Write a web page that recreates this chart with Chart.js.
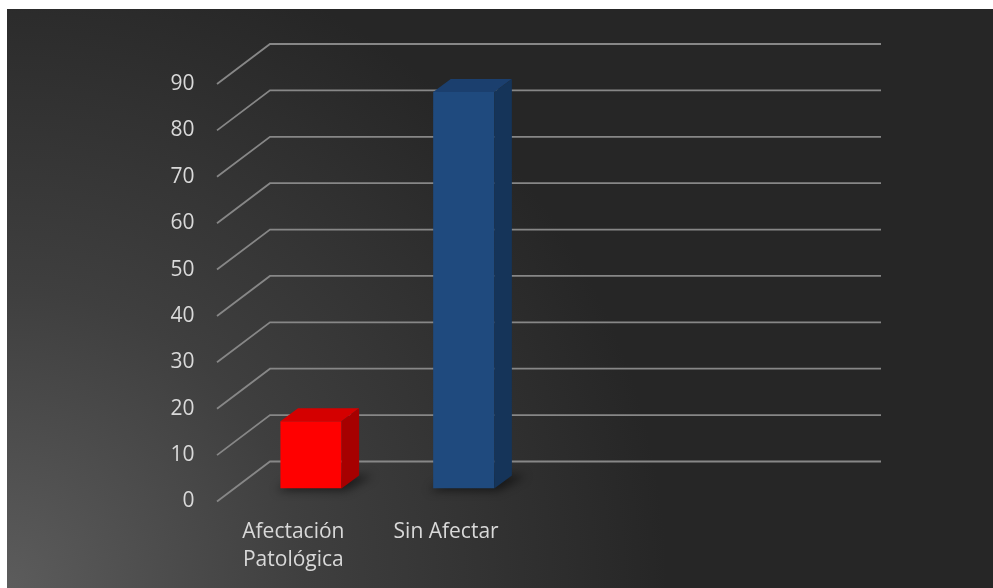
<!DOCTYPE html>
<html>
<head>
<meta charset="utf-8">
<script src="https://cdn.jsdelivr.net/npm/chart.js@4.4.1/dist/chart.umd.min.js"></script>
<style>
  html, body { margin: 0; background: #fff; }
  #wrap { position: relative; width: 993px; height: 588px; }
</style>
</head>
<body>
<div id="wrap"><canvas id="chart"></canvas></div>
<script>
// ── Data ──
const categories = [["Afectación", "Patológica"], "Sin Afectar", "", ""];
const values = [14.5, 85.5, null, null];
const frontColors = ["#ff0000", "#1f4a7e", null, null];
const topColors = ["#d40000", "#1b3f6e", null, null];
const sideColors = ["#a60000", "#153459", null, null];
const Y_MIN = 0, Y_MAX = 90, Y_STEP = 10;

// ── 3D look: offsets relative to the plane the bar fronts sit in ──
const DEPTH = { dx: 17.6, dy: 13 };   // thickness of each bar
const FRONT = { dx: -17.6, dy: 13 };  // front edge of floor (labels)
const BACK = { dx: 35.4, dy: 27 };    // back wall
const TXT = "#d9d9d9", GRIDC = "#878787";
const FONT = { family: "'Open Sans', sans-serif", size: 21, lineHeight: 28 / 21 };

const background = {
  id: "background",
  beforeDraw(chart) {
    const { ctx, width, height } = chart;
    ctx.save();
    ctx.fillStyle = "#fff";
    ctx.fillRect(0, 0, width, height);
    const g = ctx.createRadialGradient(7, height, 0, 7, height, 660);
    g.addColorStop(0, "#5c5c5c");
    g.addColorStop(0.45, "#3f3f3f");
    g.addColorStop(1, "#262626");
    ctx.fillStyle = g;
    ctx.fillRect(7, 9, width - 7, height - 9);
    ctx.restore();
  }
};

// side wall diagonals + back wall lines, one per y tick
const walls = {
  id: "walls",
  beforeDatasetsDraw(chart) {
    const { ctx, chartArea: a, scales: { y } } = chart;
    ctx.save();
    ctx.strokeStyle = GRIDC;
    ctx.lineWidth = 1.8;
    y.ticks.forEach((t) => {
      const py = y.getPixelForValue(t.value);
      ctx.beginPath();
      ctx.moveTo(a.left + FRONT.dx, py + FRONT.dy);
      ctx.lineTo(a.left + BACK.dx, py - BACK.dy);
      ctx.lineTo(a.right + BACK.dx, py - BACK.dy);
      ctx.stroke();
    });
    // soft floor shadows behind the bars
    const meta = chart.getDatasetMeta(0);
    ctx.filter = "blur(5px)";
    ctx.fillStyle = "rgba(0,0,0,0.55)";
    meta.data.forEach((bar, i) => {
      if (values[i] == null) return;
      const { x, base, width } = bar.getProps(["x", "base", "width"], true);
      const l = x - width / 2, r = x + width / 2;
      ctx.beginPath();
      ctx.moveTo(l - 4, base + 2);
      ctx.lineTo(r + 4, base + 2);
      ctx.lineTo(r + DEPTH.dx + 14, base - DEPTH.dy);
      ctx.lineTo(l + DEPTH.dx, base - DEPTH.dy);
      ctx.closePath();
      ctx.fill();
    });
    ctx.restore();
  }
};

// top and side faces of each bar
const boxes = {
  id: "boxes",
  afterDatasetsDraw(chart) {
    const { ctx } = chart;
    const meta = chart.getDatasetMeta(0);
    ctx.save();
    meta.data.forEach((bar, i) => {
      if (values[i] == null) return;
      const { x, y, base, width } = bar.getProps(["x", "y", "base", "width"], true);
      const l = x - width / 2, r = x + width / 2;
      ctx.fillStyle = topColors[i];
      ctx.beginPath();
      ctx.moveTo(l, y);
      ctx.lineTo(l + DEPTH.dx, y - DEPTH.dy);
      ctx.lineTo(r + DEPTH.dx, y - DEPTH.dy);
      ctx.lineTo(r, y);
      ctx.closePath();
      ctx.fill();
      ctx.fillStyle = sideColors[i];
      ctx.beginPath();
      ctx.moveTo(r, y);
      ctx.lineTo(r + DEPTH.dx, y - DEPTH.dy);
      ctx.lineTo(r + DEPTH.dx, base - DEPTH.dy);
      ctx.lineTo(r, base);
      ctx.closePath();
      ctx.fill();
    });
    ctx.restore();
  }
};

new Chart(document.getElementById("chart"), {
  type: "bar",
  data: {
    labels: categories,
    datasets: [{
      data: values,
      backgroundColor: frontColors,
      borderWidth: 0,
      barPercentage: 0.8,
      categoryPercentage: 0.5
    }]
  },
  options: {
    responsive: true,
    maintainAspectRatio: false,
    animation: false,
    events: [],
    layout: { padding: { left: 154.6, top: 71, right: 147.4, bottom: 9.5 } },
    plugins: { legend: { display: false }, tooltip: { enabled: false } },
    scales: {
      x: {
        grid: { display: false, drawTicks: false },
        border: { display: false },
        ticks: {
          color: TXT, font: FONT, padding: 29.5, labelOffset: FRONT.dx,
          maxRotation: 0, autoSkip: false
        },
        afterFit: (s) => { s.height = 90; }
      },
      y: {
        min: Y_MIN, max: Y_MAX,
        grid: { display: false, drawTicks: false },
        border: { display: false },
        ticks: { stepSize: Y_STEP, color: TXT, font: FONT, padding: 40, labelOffset: FRONT.dy },
        afterFit: (s) => { s.width = 80; }
      }
    }
  },
  plugins: [background, walls, boxes]
});
</script>
</body>
</html>
